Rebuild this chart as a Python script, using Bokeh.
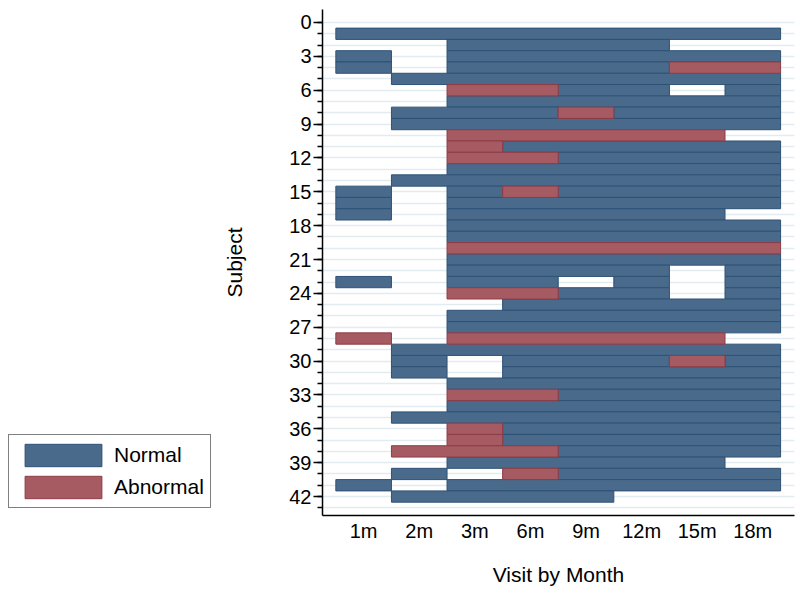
from bokeh.plotting import figure
from bokeh.layouts import row
from bokeh.models import Range1d, FixedTicker, Legend, LegendItem, ColumnDataSource
from bokeh.embed import file_html
from bokeh.resources import INLINE

# Visit labels (x categories, in order)
visits = ["1m", "2m", "3m", "6m", "9m", "12m", "15m", "18m"]

# Subject ids (rows, top to bottom)
subjects = list(range(1, 43))

# Status per subject across the 8 visits: N = Normal, A = Abnormal, . = no visit
status = [
    "NNNNNNNN",  # 1
    "..NNNN..",  # 2
    "N.NNNNNN",  # 3
    "N.NNNNAA",  # 4
    ".NNNNNNN",  # 5
    "..AANN.N",  # 6
    "..NNNNNN",  # 7
    ".NNNANNN",  # 8
    ".NNNNNNN",  # 9
    "..AAAAA.",  # 10
    "..ANNNNN",  # 11
    "..AANNNN",  # 12
    "..NNNNNN",  # 13
    ".NNNNNNN",  # 14
    "N.NANNNN",  # 15
    "N.NNNNNN",  # 16
    "N.NNNNN.",  # 17
    "..NNNNNN",  # 18
    "..NNNNNN",  # 19
    "..AAAAAA",  # 20
    "..NNNNNN",  # 21
    "..NNNN.N",  # 22
    "N.NN.N.N",  # 23
    "..AANN.N",  # 24
    "...NNNNN",  # 25
    "..NNNNNN",  # 26
    "..NNNNNN",  # 27
    "A.AAAAA.",  # 28
    ".NNNNNNN",  # 29
    ".N.NNNAN",  # 30
    ".N.NNNNN",  # 31
    "..NNNNNN",  # 32
    "..AANNNN",  # 33
    "..NNNNNN",  # 34
    ".NNNNNNN",  # 35
    "..ANNNNN",  # 36
    "..ANNNNN",  # 37
    ".AAANNNN",  # 38
    "..NNNNN.",  # 39
    ".N.ANNNN",  # 40
    "N.NNNNNN",  # 41
    ".NNNN...",  # 42
]

legend_labels = {"N": "Normal", "A": "Abnormal"}
fill_colors = {"N": "#4a6a8c", "A": "#a65a62"}
line_colors = {"N": "#2d5276", "A": "#8e3c47"}

# Build runs of consecutive equal status (merged bars like the reference)
runs = {"N": dict(y=[], left=[], right=[]), "A": dict(y=[], left=[], right=[])}
for subj, r in zip(subjects, status):
    i = 0
    while i < len(r):
        c = r[i]
        j = i
        while j + 1 < len(r) and r[j + 1] == c:
            j += 1
        if c in runs:
            runs[c]["y"].append(subj)
            runs[c]["left"].append(i + 1 - 0.5)
            runs[c]["right"].append(j + 1 + 0.5)
        i = j + 1

FONT = "Liberation Sans"
TOTAL_H = 595

p = figure(
    frame_width=472, frame_height=506,
    x_range=Range1d(0.26, 8.75), y_range=Range1d(43.68, -1.15),
    output_backend="svg", toolbar_location=None,
    min_border_left=101, min_border_top=9, min_border_bottom=80, min_border_right=5,
    background_fill_color="white", border_fill_color="white",
)
p.outline_line_color = None

for key in ["N", "A"]:
    src = ColumnDataSource(runs[key])
    p.hbar(
        y="y", left="left", right="right", height=1.0, source=src,
        fill_color=fill_colors[key], line_color=line_colors[key], line_width=1,
    )

# Axes
p.xaxis.ticker = FixedTicker(ticks=list(range(1, len(visits) + 1)))
p.xaxis.major_label_overrides = {i + 1: v for i, v in enumerate(visits)}
p.xaxis.major_tick_out = 0
p.xaxis.major_tick_in = 0
p.xaxis.minor_tick_out = 0
p.xaxis.minor_tick_in = 0
p.xaxis.axis_label = "Visit by Month"
p.xaxis.major_label_standoff = 4
p.xaxis.axis_label_standoff = 18

p.yaxis.ticker = FixedTicker(ticks=list(range(0, 43, 3)), minor_ticks=list(range(0, 44)))
p.yaxis.major_tick_out = 9
p.yaxis.major_tick_in = 0
p.yaxis.minor_tick_out = 5
p.yaxis.minor_tick_in = 0
p.yaxis.axis_label = "Subject"
p.yaxis.major_label_standoff = 2
p.yaxis.axis_label_standoff = 40

for ax in [p.xaxis, p.yaxis]:
    ax.axis_line_color = "black"
    ax.axis_line_width = 1.5
    ax.major_tick_line_color = "black"
    ax.major_tick_line_width = 1.5
    ax.minor_tick_line_color = "black"
    ax.minor_tick_line_width = 1.5
    ax.major_label_text_font = FONT
    ax.major_label_text_font_size = "20px"
    ax.major_label_text_color = "black"
    ax.axis_label_text_font = FONT
    ax.axis_label_text_font_size = "21px"
    ax.axis_label_text_font_style = "normal"
    ax.axis_label_text_color = "black"

p.xgrid.grid_line_color = None
p.ygrid.ticker = FixedTicker(ticks=list(range(0, 44)))
p.ygrid.grid_line_color = "#e2ebf0"
p.ygrid.grid_line_width = 1.5

# Legend panel on the left (separate figure so it is not clipped)
lg = figure(
    width=220, height=TOTAL_H, output_backend="svg", toolbar_location=None,
    x_axis_location=None, y_axis_location=None,
    min_border_left=0, min_border_right=0, min_border_top=9, min_border_bottom=80,
    x_range=Range1d(0, 1), y_range=Range1d(0, 1),
    background_fill_color="white", border_fill_color="white",
)
lg.outline_line_color = None
lg.grid.visible = False
legend_renderers = {}
for key in ["N", "A"]:
    # proxy glyph placed outside the visible range; only its legend swatch shows
    legend_renderers[key] = lg.hbar(
        y=[10], left=[10], right=[11], height=1.0,
        fill_color=fill_colors[key], line_color=line_colors[key], line_width=1,
    )

legend = Legend(
    items=[LegendItem(label=legend_labels[k], renderers=[legend_renderers[k]]) for k in ["N", "A"]],
    location=(8, 7),
    orientation="vertical",
    glyph_width=96, glyph_height=28,
    padding=6, spacing=4, label_standoff=3, margin=0,
    label_text_font=FONT, label_text_font_size="21px", label_text_color="black",
    border_line_color="black", border_line_width=1.8,
    background_fill_color="white", background_fill_alpha=1,
    label_height=28,
)
lg.add_layout(legend, "center")

layout = row(lg, p, spacing=0)

open("out.html", "w").write(file_html(layout, INLINE))
